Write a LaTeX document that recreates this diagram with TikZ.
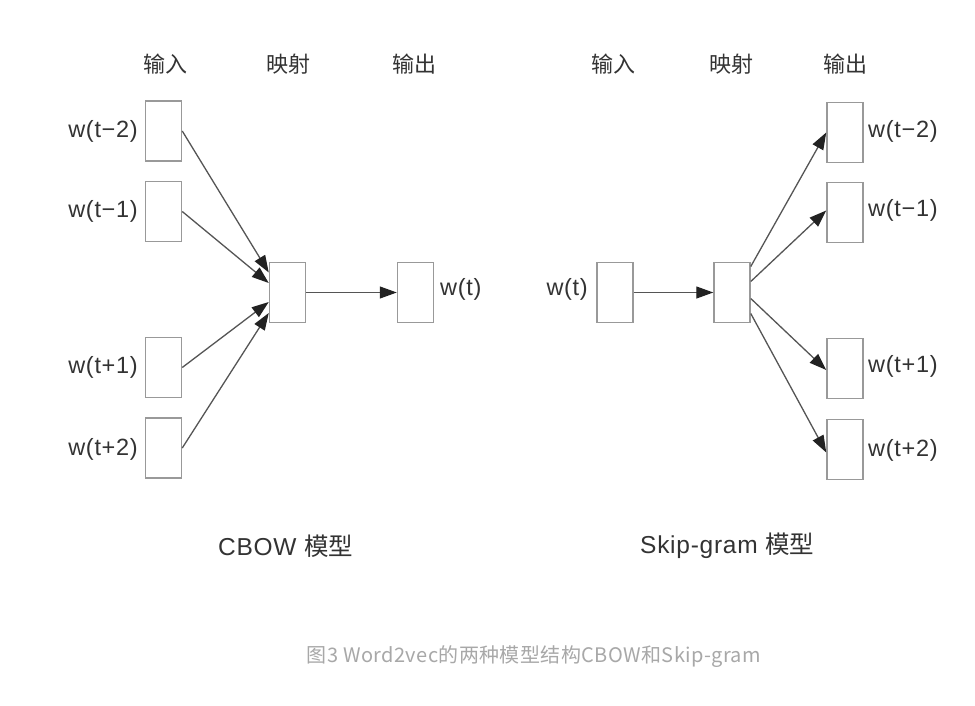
\documentclass[tikz,border=0pt]{standalone}
\usepackage{fontspec}
\setmainfont{Liberation Sans}
\newfontfamily\lblfont[LetterSpace=3]{Liberation Sans}
\newfontfamily\cjk{Noto Sans CJK SC}
\newfontfamily\cjkcap[LetterSpace=2]{Noto Sans CJK SC}
\usetikzlibrary{arrows.meta}
\definecolor{boxc}{HTML}{999999}
\definecolor{linec}{HTML}{555555}
\definecolor{tipc}{HTML}{222222}
\definecolor{txtc}{HTML}{333333}
\definecolor{capc}{HTML}{A8A8A8}
\tikzset{
  wbox/.style={draw=boxc, line width=1.5pt, minimum width=36pt, minimum height=60pt, inner sep=0pt},
  lbl/.style={text=txtc, font=\lblfont\fontsize{23.5}{25}\selectfont, inner sep=0pt},
  ttl/.style={text=txtc, font=\lblfont\fontsize{24.5}{26}\selectfont, inner sep=0pt},
  hdr/.style={text=txtc, font=\cjk\fontsize{22}{24}\selectfont, inner sep=0pt},
  arr/.style={draw=linec, line width=1.3pt, -{Triangle[length=17pt,width=12pt,color=tipc]}},
}
\begin{document}
\begin{tikzpicture}[x=1pt,y=-1pt]
\useasboundingbox[fill=white] (0,0) rectangle (975,706);
% headers
\node[hdr] (h1) at (165,64) {输入};
\node[hdr] (h2) at (288,64) {映射};
\node[hdr] (h3) at (414,64) {输出};
\node[hdr] (h4) at (613,64) {输入};
\node[hdr] (h5) at (731,64) {映射};
\node[hdr] (h6) at (845,64) {输出};
% CBOW
\node[wbox] (ci1) at (163.5,131) {};
\node[wbox] (ci2) at (163.5,211.5) {};
\node[wbox] (ci3) at (163.5,367.5) {};
\node[wbox] (ci4) at (163.5,448) {};
\node[wbox] (cp) at (287.5,292.5) {};
\node[wbox] (co) at (415.5,292.5) {};
\node[lbl,anchor=east] (cl1) at (138,131) {w(t−2)};
\node[lbl,anchor=east] (cl2) at (138,211) {w(t−1)};
\node[lbl,anchor=east] (cl3) at (138,367) {w(t+1)};
\node[lbl,anchor=east] (cl4) at (138,449) {w(t+2)};
\node[lbl,anchor=west] (clo) at (440,289) {w(t)};
\draw[arr] (ci1.east) -- ([yshift=20pt]cp.west);
\draw[arr] (ci2.east) -- ([yshift=9.5pt]cp.west);
\draw[arr] (ci3.east) -- ([yshift=-9.5pt]cp.west);
\draw[arr] (ci4.east) -- ([yshift=-20.5pt]cp.west);
\draw[arr] (cp.east) -- (co.west);
% Skip-gram
\node[wbox] (si) at (615,292.5) {};
\node[wbox] (sp) at (732,292.5) {};
\node[wbox] (so1) at (845,132.5) {};
\node[wbox] (so2) at (845,212.5) {};
\node[wbox] (so3) at (845,368.5) {};
\node[wbox] (so4) at (845,449.5) {};
\node[lbl,anchor=east] (sli) at (588,289) {w(t)};
\node[lbl,anchor=west] (sl1) at (868,131) {w(t−2)};
\node[lbl,anchor=west] (sl2) at (868,210) {w(t−1)};
\node[lbl,anchor=west] (sl3) at (868,366) {w(t+1)};
\node[lbl,anchor=west] (sl4) at (868,450) {w(t+2)};
\draw[arr] (si.east) -- (sp.west);
\draw[arr] ([yshift=26pt]sp.east) -- (so1.west);
\draw[arr] ([yshift=11pt]sp.east) -- ([yshift=2pt]so2.west);
\draw[arr] ([yshift=-6pt]sp.east) -- ([yshift=-1.5pt]so3.west);
\draw[arr] ([yshift=-21pt]sp.east) -- ([yshift=-3pt]so4.west);
% titles
\node[ttl,anchor=west] (t1) at (218,546) {CBOW {\cjk 模型}};
\node[ttl,anchor=west] (t2) at (640,546) {Skip-gram {\cjk 模型}};
\node[text=capc, font=\cjkcap\fontsize{20}{22}\selectfont, inner sep=0pt] (cap) at (534,657) {图3 Word2vec的两种模型结构CBOW和Skip-gram};
\end{tikzpicture}
\end{document}
